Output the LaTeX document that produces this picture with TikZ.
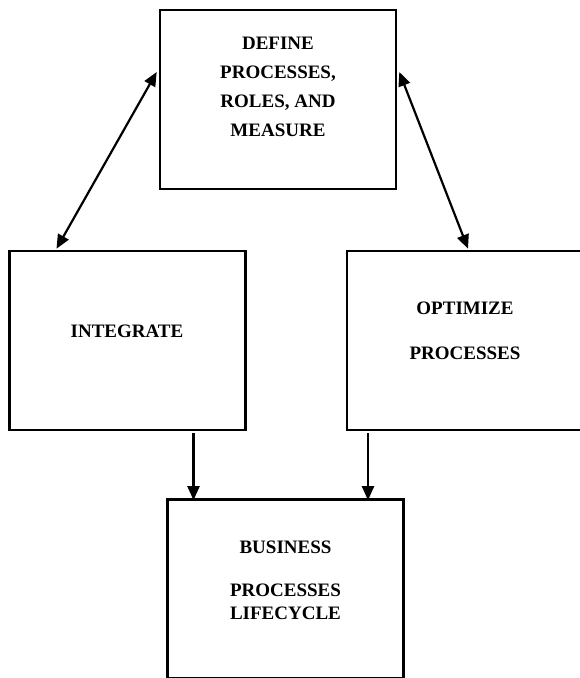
\documentclass[tikz,border=0pt]{standalone}
\usepackage{fontspec}
\setmainfont{Liberation Serif}
\usetikzlibrary{arrows.meta, positioning, calc}

\begin{document}
\begin{tikzpicture}[
    x=1pt, y=-1pt,
    box/.style={rectangle, draw=black, line width=2.6pt, minimum width=236pt, minimum height=179pt, inner sep=0pt},
    boxtext/.style={align=center, font=\fontsize{19}{23}\selectfont\bfseries, inner sep=0pt},
    arrow/.style={-{Triangle[length=14pt, width=12pt]}, line width=2.2pt, black},
    biarrow/.style={{Triangle[length=14pt, width=12pt]}-{Triangle[length=14pt, width=12pt]}, line width=2.2pt, black}
]
\useasboundingbox (0,0) rectangle (579,678);

% Boxes
\node[box] (define) at (278, 99.5) {};
\node[box] (integrate) at (127.5, 340.5) {};
\node[box] (optimize) at (465, 340.5) {};
\node[box] (lifecycle) at (285.5, 589) {};

% Box texts
\node[boxtext, font=\fontsize{19}{29}\selectfont\bfseries] (define text) at (278, 86.5) {DEFINE\\PROCESSES,\\ROLES, AND\\MEASURE};
\node[boxtext] (integrate text) at (127, 331) {INTEGRATE};
\node[boxtext] (optimize text) at (465, 330.5) {OPTIMIZE\\[22pt]PROCESSES};
\node[boxtext] (lifecycle text) at (285.5, 580) {BUSINESS\\[20pt]PROCESSES\\LIFECYCLE};

% Connectors
\draw[biarrow] ([yshift=27.5pt, xshift=-2pt]define.west) -- ([xshift=-71pt, yshift=1pt]integrate.north);
\draw[biarrow] ([yshift=27.5pt, xshift=2pt]define.east) -- ([xshift=3pt, yshift=1pt]optimize.north);
\draw[arrow] ([xshift=66pt, yshift=-2pt]integrate.south) -- ([xshift=66pt, yshift=-2pt]integrate.south |- lifecycle.north);
\draw[arrow] ([xshift=-97pt, yshift=-2pt]optimize.south) -- ([xshift=-97pt, yshift=-2pt]optimize.south |- lifecycle.north);

\end{tikzpicture}
\end{document}
